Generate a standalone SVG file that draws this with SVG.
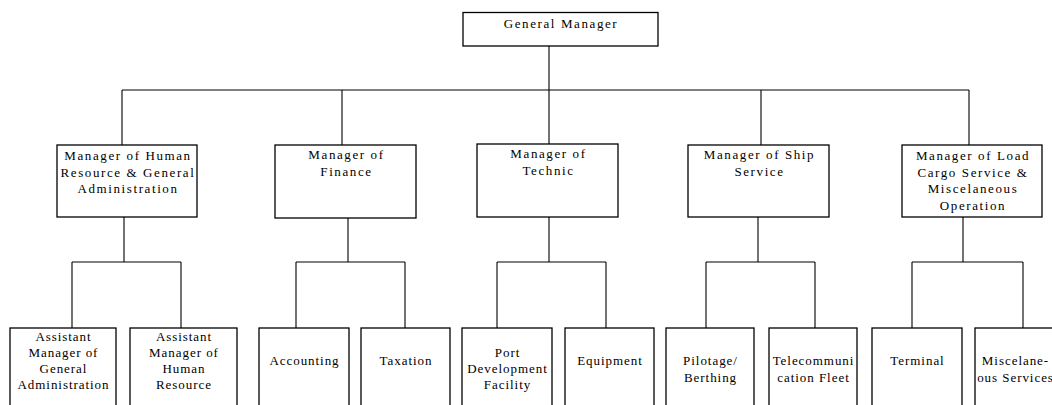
<svg xmlns="http://www.w3.org/2000/svg" width="1052" height="405" viewBox="0 0 1052 405">
  <style>
    .box { fill: #fff; stroke: #000; stroke-width: 1.3; }
    .link { fill: none; stroke: #000; stroke-width: 1.1; }
    text { font-family: "Liberation Serif", "Times New Roman", serif; font-size: 13px; fill: #000; text-anchor: middle; }
    .top text, .mgr text { letter-spacing: 1.6px; }
    .unit text { letter-spacing: 0.95px; }
  </style>
  <rect width="1052" height="405" fill="#fff"/>

  <!-- connectors -->
  <g id="connectors" class="link">
    <path d="M549 46 V90 M122 90 H969 M122 90 V145 M342 90 V145 M549 90 V144 M761 90 V145 M969 90 V145"/>
    <path d="M124 217 V262 M72 262 H181 M72 262 V328 M181 262 V328"/>
    <path d="M348 218 V262 M296 262 H405 M296 262 V328 M405 262 V328"/>
    <path d="M549 217 V262 M497 262 H606 M497 262 V328 M606 262 V328"/>
    <path d="M758 217 V262 M706 262 H815 M706 262 V328 M815 262 V328"/>
    <path d="M963 217 V262 M912 262 H1023 M912 262 V328 M1023 262 V328"/>
  </g>

  <!-- top -->
  <g id="general-manager" class="top">
    <rect class="box" x="463" y="12.5" width="195" height="33.5"/>
    <text x="561" y="27.5">General Manager</text>
  </g>

  <!-- managers -->
  <g id="mgr-hr" class="mgr">
    <rect class="box" x="57" y="145" width="140" height="72"/>
    <text x="128" y="160">Manager of Human</text>
    <text x="128" y="176.6">Resource &amp; General</text>
    <text x="128" y="193.2">Administration</text>
  </g>
  <g id="mgr-finance" class="mgr">
    <rect class="box" x="275" y="145" width="141" height="73"/>
    <text x="346.5" y="159.3">Manager of</text>
    <text x="346.5" y="176">Finance</text>
  </g>
  <g id="mgr-technic" class="mgr">
    <rect class="box" x="477" y="144" width="141" height="73"/>
    <text x="548.5" y="158.3">Manager of</text>
    <text x="548.5" y="175">Technic</text>
  </g>
  <g id="mgr-ship" class="mgr">
    <rect class="box" x="688" y="145" width="141" height="72"/>
    <text x="759.5" y="159.3">Manager of Ship</text>
    <text x="759.5" y="176">Service</text>
  </g>
  <g id="mgr-cargo" class="mgr">
    <rect class="box" x="902" y="145" width="140" height="72"/>
    <text x="973" y="160">Manager of Load</text>
    <text x="973" y="176.6">Cargo Service &amp;</text>
    <text x="973" y="193.2">Miscelaneous</text>
    <text x="973" y="209.8">Operation</text>
  </g>

  <!-- units -->
  <g id="unit-general-admin" class="unit">
    <rect class="box" x="10" y="328" width="106" height="90"/>
    <text x="63.5" y="340.7">Assistant</text>
    <text x="63.5" y="357.3">Manager of</text>
    <text x="63.5" y="373.3">General</text>
    <text x="63.5" y="388.5">Administration</text>
  </g>
  <g id="unit-human-resource" class="unit">
    <rect class="box" x="130" y="328" width="107" height="90"/>
    <text x="184" y="340.7">Assistant</text>
    <text x="184" y="357.3">Manager of</text>
    <text x="184" y="373.3">Human</text>
    <text x="184" y="388.5">Resource</text>
  </g>
  <g id="unit-accounting" class="unit">
    <rect class="box" x="259" y="328" width="90" height="90"/>
    <text x="304.5" y="365">Accounting</text>
  </g>
  <g id="unit-taxation" class="unit">
    <rect class="box" x="361" y="328" width="89" height="90"/>
    <text x="406" y="365">Taxation</text>
  </g>
  <g id="unit-port" class="unit">
    <rect class="box" x="462" y="328" width="90" height="90"/>
    <text x="507.5" y="357.3">Port</text>
    <text x="507.5" y="373.3">Development</text>
    <text x="507.5" y="389">Facility</text>
  </g>
  <g id="unit-equipment" class="unit">
    <rect class="box" x="565" y="328" width="89" height="90"/>
    <text x="610" y="365">Equipment</text>
  </g>
  <g id="unit-pilotage" class="unit">
    <rect class="box" x="666" y="328" width="88" height="90"/>
    <text x="710.5" y="365">Pilotage/</text>
    <text x="710.5" y="382.3">Berthing</text>
  </g>
  <g id="unit-telecom" class="unit">
    <rect class="box" x="769" y="328" width="88" height="90"/>
    <text x="813.5" y="365">Telecommuni</text>
    <text x="813.5" y="382.3">cation Fleet</text>
  </g>
  <g id="unit-terminal" class="unit">
    <rect class="box" x="872" y="328" width="90" height="90"/>
    <text x="917.5" y="365">Terminal</text>
  </g>
  <g id="unit-misc" class="unit">
    <rect class="box" x="975" y="328" width="92" height="90"/>
    <text x="1015.5" y="365">Miscelane-</text>
    <text x="1015.5" y="382.3">ous Services</text>
  </g>
</svg>
